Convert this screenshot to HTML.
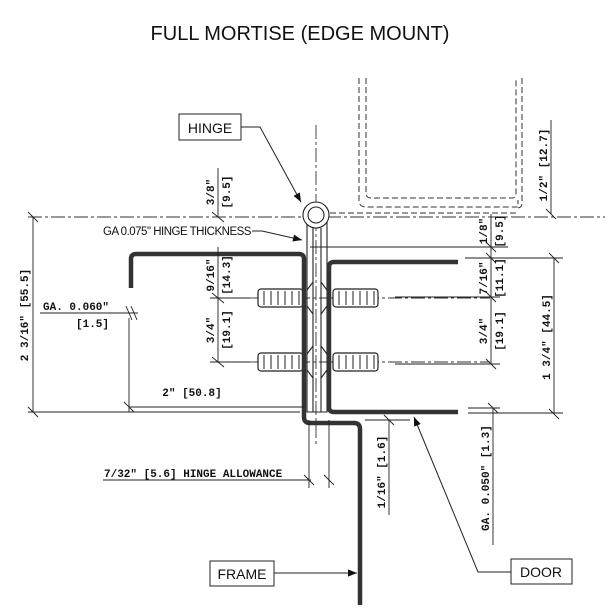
<!DOCTYPE html>
<html><head><meta charset="utf-8"><style>
html,body{margin:0;padding:0;background:#fff;}
svg{display:block;}
.m{font-family:"Liberation Mono",monospace;font-weight:bold;font-size:11px;fill:#111;}
.s{font-family:"Liberation Sans",sans-serif;fill:#111;}
</style></head><body>
<svg width="608" height="613" viewBox="0 0 608 613" xmlns="http://www.w3.org/2000/svg">
<defs>
<marker id="ar" viewBox="0 0 10 10" refX="10" refY="5" markerWidth="9" markerHeight="9" orient="auto"><path d="M0,1 L10,5 L0,9 z" fill="#111"/></marker>
<g id="screw">
<rect x="0" y="-9" width="45" height="18" rx="3" fill="#fff" stroke="#222" stroke-width="1.2"/>
<path d="M6,-7V7M13,-7V7M20,-7V7M27,-7V7M34,-7V7M41,-7V7" stroke="#222" stroke-width="1"/>
</g>
</defs>
<text x="300" y="40" class="s" font-size="20" text-anchor="middle">FULL MORTISE (EDGE MOUNT)</text>

<!-- dashed door above -->
<g fill="none" stroke="#333" stroke-width="1" stroke-dasharray="6,3">
<path d="M359,78 V200 Q359,207 366,207 H518 V200"/>
<path d="M366,78 V193 Q366,198 371,198 H512 Q516,198 516,193 V78"/>
<path d="M522,78 V203 Q522,208 517,208"/>
<path d="M330,213 H517"/>
</g>
<!-- centerlines -->
<g stroke="#333" stroke-width="0.9" fill="none" stroke-dasharray="14,3,3,3">
<path d="M316,125 V445"/>
<path d="M28,217 H605"/>
<path d="M250,298 H490"/>
<path d="M250,362 H490"/>
</g>

<!-- hinge leaf -->
<g fill="none" stroke="#222" stroke-width="1.1">
<path d="M307,222 V412 H327 V222"/>
<path d="M313,228 V412 M321,228 V412"/>
<path d="M307,290 L313,282 M327,290 L321,282 M307,306 L313,314 M327,306 L321,314 M307,354 L313,346 M327,354 L321,346 M307,370 L313,378 M327,370 L321,378"/>
<circle cx="316" cy="215" r="13" fill="#fff"/>
<circle cx="316" cy="215" r="8"/>
</g>
<!-- screws -->
<use href="#screw" x="258" y="298"/>
<use href="#screw" x="333" y="298"/>
<use href="#screw" x="258" y="362"/>
<use href="#screw" x="333" y="362"/>

<!-- frame -->
<path d="M131,288 V259 Q131,254 136,254 H299 Q304,254 304,259 V417 Q304,423 310,423 H354 Q360,423 360,429 V605" fill="none" stroke="#333" stroke-width="4.5"/>
<!-- door -->
<path d="M458,262 H334 Q329,262 329,267 V407 Q329,412 334,412 H458" fill="none" stroke="#333" stroke-width="4.5"/>

<!-- dimension lines -->
<g stroke="#222" stroke-width="0.9" fill="none">
<path d="M218,168 V217 M212,212 L224,222"/>
<path d="M218,247 V362 M212,293 L224,303 M212,357 L224,367 M210,298 H250 M210,362 H250"/>
<path d="M28,412 H300 M33,217 V412 M28,212 L38,222 M28,407 L38,417"/>
<path d="M129,318 V412 M129,407 H304 M124,402 L134,412 M40,313 H138 M126,306 L132,320 M131,306 L137,320"/>
<path d="M103,480 H311 M309,420 V488 M329,420 V488 M304,475 L314,485 M324,475 L334,485"/>
<path d="M389,420 V515 M365,420 H410 M384,415 L394,425"/>
<path d="M493,408 V545 M468,413 H563 M468,408 H500 M488,403 L498,413"/>
<path d="M551,120 V214 M546,209 L556,219"/>
<path d="M310,247 H508 M491,214 V364 M486,242 L496,252 M465,258 H563 M486,253 L496,263 M395,297 H500 M395,364 H500 M486,292 L496,302 M486,359 L496,369"/>
<path d="M554,258 V414 M549,253 L559,263 M549,409 L559,419"/>
</g>

<!-- dimension text -->
<text class="m" transform="translate(214,192) rotate(-90)" text-anchor="middle">3/8"</text>
<text class="m" transform="translate(230,192) rotate(-90)" text-anchor="middle">[9.5]</text>
<text class="m" transform="translate(214,275) rotate(-90)" text-anchor="middle">9/16"</text>
<text class="m" transform="translate(230,275) rotate(-90)" text-anchor="middle">[14.3]</text>
<text class="m" transform="translate(214,330) rotate(-90)" text-anchor="middle">3/4"</text>
<text class="m" transform="translate(230,330) rotate(-90)" text-anchor="middle">[19.1]</text>
<text class="m" transform="translate(28,315) rotate(-90)" text-anchor="middle">2 3/16" [55.5]</text>
<text class="m" x="43" y="310">GA. 0.060"</text>
<text class="m" x="76" y="327">[1.5]</text>
<text class="m" x="192" y="396" text-anchor="middle">2" [50.8]</text>
<text class="m" x="104" y="477">7/32" [5.6] HINGE ALLOWANCE</text>
<text class="m" transform="translate(385,472) rotate(-90)" text-anchor="middle">1/16" [1.6]</text>
<text class="m" transform="translate(489,478) rotate(-90)" text-anchor="middle">GA. 0.050" [1.3]</text>
<text class="m" transform="translate(547,165) rotate(-90)" text-anchor="middle">1/2" [12.7]</text>
<text class="m" transform="translate(487,231) rotate(-90)" text-anchor="middle">1/8"</text>
<text class="m" transform="translate(503,231) rotate(-90)" text-anchor="middle">[9.5]</text>
<text class="m" transform="translate(487,278) rotate(-90)" text-anchor="middle">7/16"</text>
<text class="m" transform="translate(503,278) rotate(-90)" text-anchor="middle">[11.1]</text>
<text class="m" transform="translate(487,331) rotate(-90)" text-anchor="middle">3/4"</text>
<text class="m" transform="translate(503,331) rotate(-90)" text-anchor="middle">[19.1]</text>
<text class="m" transform="translate(550,337) rotate(-90)" text-anchor="middle">1 3/4" [44.5]</text>

<text class="s" x="103" y="235" font-size="11.5" letter-spacing="-0.5">GA 0.075" HINGE THICKNESS</text>
<path d="M252,231 H262 L302,240" fill="none" stroke="#222" stroke-width="1" marker-end="url(#ar)"/>

<!-- labels -->
<rect x="179" y="114" width="62" height="26" fill="#fff" stroke="#222" stroke-width="1"/>
<text class="s" x="210" y="133" font-size="14" text-anchor="middle">HINGE</text>
<path d="M241,127 H260 L301,202" fill="none" stroke="#222" stroke-width="1" marker-end="url(#ar)"/>

<rect x="210" y="561" width="64" height="25" fill="#fff" stroke="#222" stroke-width="1"/>
<text class="s" x="242" y="579" font-size="14" text-anchor="middle">FRAME</text>
<path d="M274,573 H357" fill="none" stroke="#222" stroke-width="1" marker-end="url(#ar)"/>

<rect x="511" y="559" width="61" height="25" fill="#fff" stroke="#222" stroke-width="1"/>
<text class="s" x="541" y="577" font-size="14" text-anchor="middle">DOOR</text>
<path d="M511,572 H478 L414,417" fill="none" stroke="#222" stroke-width="1" marker-end="url(#ar)"/>
</svg>
</body></html>
